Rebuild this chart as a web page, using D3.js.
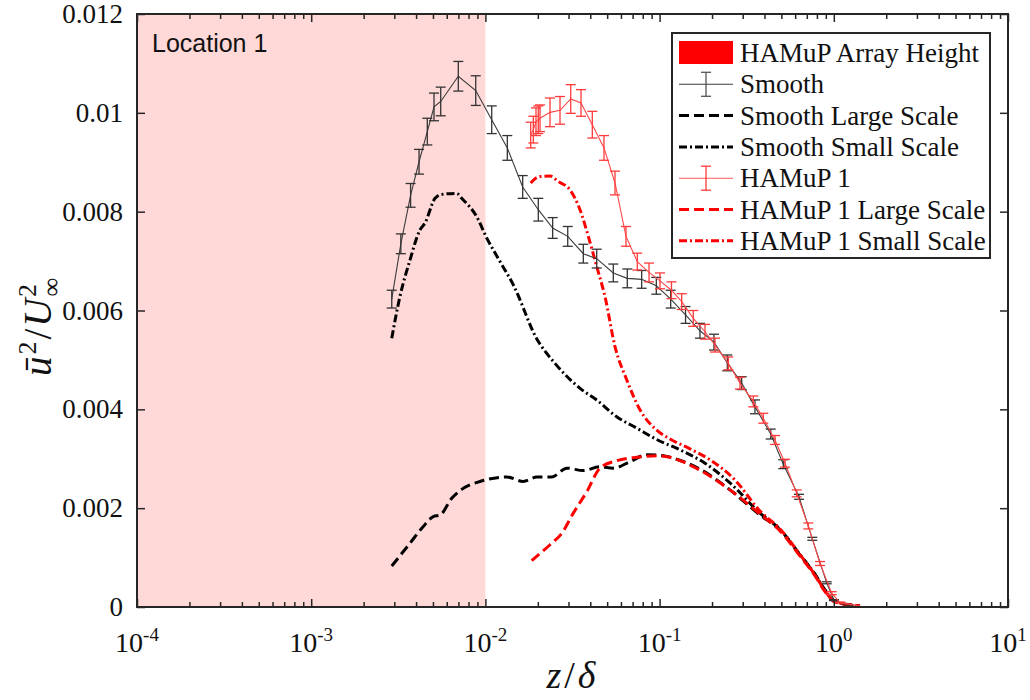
<!DOCTYPE html>
<html>
<head>
<meta charset="utf-8">
<title>Location 1</title>
<script src="https://d3js.org/d3.v7.min.js"></script>
<style>
  body { margin: 0; background: #fff; }
  text { font-family: "Liberation Serif", "Times New Roman", serif; fill: #111; }
</style>
</head>
<body>
<script>
// ---- data ----
var smoothZ = [0.00290, 0.00327, 0.00372, 0.00416, 0.00464, 0.00507, 0.00554, 0.00699, 0.00880, 0.01087,
  0.01336, 0.01637, 0.02012, 0.02433, 0.02969, 0.03648, 0.04356, 0.05422, 0.06525, 0.07890,
  0.09574, 0.1158, 0.1409, 0.1705, 0.2052, 0.2447, 0.2960, 0.3528, 0.4344, 0.5130,
  0.6312, 0.7526, 0.9104, 1.003, 1.15, 1.35, 1.55];
var smoothU = [0.00623, 0.00735, 0.00833, 0.00901, 0.00962, 0.01012, 0.01023, 0.01074, 0.01045, 0.00986,
  0.00929, 0.00850, 0.00804, 0.00767, 0.00750, 0.00715, 0.00705, 0.00676, 0.00665, 0.00663,
  0.00650, 0.00623, 0.00591, 0.00559, 0.00536, 0.00494, 0.00453, 0.00405, 0.00350, 0.00289,
  0.00223, 0.00138, 0.00049, 0.00014, 0.00004, 0.00001, 0];
var smoothErr = [0.00018, 0.00020, 0.00024, 0.00025, 0.00027, 0.00028, 0.00029, 0.00030, 0.00030, 0.00028,
  0.00025, 0.00023, 0.00023, 0.00021, 0.00020, 0.00019, 0.00019, 0.00018, 0.00019, 0.00018,
  0.00017, 0.00018, 0.00017, 0.00015, 0.00016, 0.00016, 0.00013, 0.00014, 0.00010, 0.00009,
  0.00005, 0.00003, 0.00002, 0.00001, 0, 0, 0];

var smoothLargeZ = [0.00290, 0.00369, 0.00440, 0.00502, 0.00549, 0.00641, 0.00731, 0.00931, 0.01326, 0.01651,
  0.01970, 0.02402, 0.02930, 0.03648, 0.04548, 0.05422, 0.06761, 0.08433, 0.1050, 0.1281,
  0.1705, 0.2536, 0.3771, 0.4912, 0.6398, 0.7802, 0.8903, 1.016, 1.414];
var smoothLargeU = [0.00083, 0.00129, 0.00163, 0.00183, 0.00186, 0.00220, 0.00238, 0.00254, 0.00263, 0.00254,
  0.00263, 0.00263, 0.00281, 0.00276, 0.00284, 0.00281, 0.00294, 0.00308, 0.00306, 0.00298,
  0.00279, 0.00237, 0.00186, 0.00156, 0.00105, 0.00066, 0.00034, 0.00011, 0.00002];

var smoothSmallZ = [0.00290, 0.00323, 0.00369, 0.00421, 0.00450, 0.00514, 0.00561, 0.00685, 0.00731, 0.00891,
  0.01017, 0.01213, 0.01446, 0.01970, 0.02509, 0.03538, 0.04356, 0.05672, 0.07387, 0.09625,
  0.1310, 0.1822, 0.2536, 0.3771, 0.4912, 0.6398, 0.7802, 0.8903, 1.016, 1.414];
var smoothSmallU = [0.00544, 0.00628, 0.00702, 0.00763, 0.00777, 0.00827, 0.00835, 0.00837, 0.00827, 0.00790,
  0.00747, 0.00699, 0.00652, 0.00543, 0.00493, 0.00441, 0.00419, 0.00385, 0.00362, 0.00339,
  0.00318, 0.00291, 0.00251, 0.00190, 0.00157, 0.00106, 0.00066, 0.00034, 0.00011, 0.00002];

var hamupZ = [0.01820, 0.01884, 0.01952, 0.02012, 0.02058, 0.02349, 0.02681, 0.03089, 0.03538, 0.04109,
  0.04795, 0.05546, 0.06413, 0.07447, 0.08695, 0.1005, 0.1170, 0.1339, 0.1561, 0.1822,
  0.2080, 0.2480, 0.2894, 0.3450, 0.3937, 0.4597, 0.5248, 0.6124, 0.7140, 0.8333,
  0.9728, 1.0855, 1.414];
var hamupU = [0.00955, 0.00966, 0.00982, 0.00986, 0.00989, 0.01001, 0.01005, 0.01028, 0.01020, 0.00976,
  0.00929, 0.00858, 0.00750, 0.00699, 0.00677, 0.00660, 0.00641, 0.00618, 0.00584, 0.00557,
  0.00530, 0.00493, 0.00453, 0.00416, 0.00382, 0.00338, 0.00291, 0.00230, 0.00164, 0.00088,
  0.00028, 0.00009, 0.00002];
var hamupErr = [0.00026, 0.00027, 0.00028, 0.00028, 0.00027, 0.00029, 0.00028, 0.00029, 0.00027, 0.00027,
  0.00025, 0.00024, 0.00020, 0.00017, 0.00019, 0.00016, 0.00017, 0.00016, 0.00016, 0.00015,
  0.00014, 0.00013, 0.00012, 0.00011, 0.00010, 0.00009, 0.00008, 0.00007, 0.00006, 0.00004,
  0.00003, 0.00001, 0];

var hamupLargeZ = [0.01844, 0.02349, 0.02742, 0.03196, 0.03815, 0.04548, 0.05672, 0.07387, 0.09625, 0.1147,
  0.1310, 0.1705, 0.2536, 0.3771, 0.4912, 0.6398, 0.7802, 0.8903, 1.016, 1.414];
var hamupLargeU = [0.00094, 0.00126, 0.00149, 0.00190, 0.00233, 0.00281, 0.00296, 0.00303, 0.00306, 0.00303,
  0.00296, 0.00277, 0.00237, 0.00188, 0.00154, 0.00103, 0.00063, 0.00031, 0.00010, 0.00002];

var hamupSmallZ = [0.01820, 0.01952, 0.02058, 0.02349, 0.02621, 0.03060, 0.03492, 0.03897, 0.04356, 0.04859,
  0.05546, 0.06473, 0.07716, 0.09625, 0.1147, 0.1494, 0.1947, 0.2709, 0.3771, 0.4912,
  0.6398, 0.7802, 0.8903, 1.016, 1.414];
var hamupSmallU = [0.00858, 0.00868, 0.00871, 0.00872, 0.00861, 0.00844, 0.00804, 0.00750, 0.00689, 0.00628,
  0.00527, 0.00460, 0.00399, 0.00358, 0.00340, 0.00320, 0.00298, 0.00257, 0.00194, 0.00158,
  0.00106, 0.00065, 0.00033, 0.00011, 0.00002];

var arrayHeight = [1e-4, 1e-2];   // shaded HAMuP array height band
var xTickExp = [-4, -3, -2, -1, 0, 1];
var yTicks = [0, 0.002, 0.004, 0.006, 0.008, 0.01, 0.012];
var yTickLabels = ["0", "0.002", "0.004", "0.006", "0.008", "0.01", "0.012"];
var legendNames = ["HAMuP Array Height", "Smooth", "Smooth Large Scale", "Smooth Small Scale",
  "HAMuP 1", "HAMuP 1 Large Scale", "HAMuP 1 Small Scale"];

// ---- layout ----
var width = 1030, height = 700;
var plotL = 137, plotR = 1008, plotT = 14, plotB = 607;
var frameColor = "#262626";
var red = "#ff0000";

var x = d3.scaleLog().domain([1e-4, 10]).range([plotL, plotR]);
var y = d3.scaleLinear().domain([0, 0.012]).range([plotB, plotT]);

var svg = d3.select("body").append("svg")
  .attr("width", width)
  .attr("height", height);

svg.append("defs").append("clipPath").attr("id", "plotclip")
  .append("rect").attr("x", plotL).attr("y", plotT)
  .attr("width", plotR - plotL).attr("height", plotB - plotT);

// shaded band
svg.append("rect")
  .attr("x", x(arrayHeight[0]))
  .attr("y", plotT)
  .attr("width", x(arrayHeight[1]) - x(arrayHeight[0]))
  .attr("height", plotB - plotT)
  .attr("fill", "#ffd8d8");

var plot = svg.append("g").attr("clip-path", "url(#plotclip)");

function zip(zs, us) {
  return zs.map(function(z, i) { return [z, us[i]]; });
}

var straight = d3.line().x(function(d) { return x(d[0]); }).y(function(d) { return y(d[1]); });
var smoothLine = d3.line().curve(d3.curveMonotoneX)
  .x(function(d) { return x(d[0]); }).y(function(d) { return y(d[1]); });

var dashed = "10,5";
var dashDot = "8,3,2,3";

// dashed / dash-dot decompositions
plot.append("path").datum(zip(smoothLargeZ, smoothLargeU))
  .attr("d", smoothLine).attr("fill", "none")
  .attr("stroke", "#000").attr("stroke-width", 3).attr("stroke-dasharray", dashed);
plot.append("path").datum(zip(smoothSmallZ, smoothSmallU))
  .attr("d", smoothLine).attr("fill", "none")
  .attr("stroke", "#000").attr("stroke-width", 3).attr("stroke-dasharray", dashDot);
plot.append("path").datum(zip(hamupLargeZ, hamupLargeU))
  .attr("d", smoothLine).attr("fill", "none")
  .attr("stroke", red).attr("stroke-width", 3).attr("stroke-dasharray", dashed);
plot.append("path").datum(zip(hamupSmallZ, hamupSmallU))
  .attr("d", smoothLine).attr("fill", "none")
  .attr("stroke", red).attr("stroke-width", 3).attr("stroke-dasharray", dashDot);

// error bar series
function errorSeries(zs, us, es, lineColor, barColor) {
  var g = plot.append("g");
  g.append("path").datum(zip(zs, us))
    .attr("d", straight).attr("fill", "none")
    .attr("stroke", lineColor).attr("stroke-width", 1.1);
  var pts = zs.map(function(z, i) { return {z: z, u: us[i], e: es[i]}; })
    .filter(function(d) { return d.e > 0; });
  var bars = g.selectAll("g.bar").data(pts).enter().append("g").attr("class", "bar")
    .attr("stroke", barColor).attr("stroke-width", 1.3);
  bars.append("line")
    .attr("x1", function(d) { return x(d.z); }).attr("x2", function(d) { return x(d.z); })
    .attr("y1", function(d) { return y(d.u - d.e); }).attr("y2", function(d) { return y(d.u + d.e); });
  [-1, 1].forEach(function(s) {
    bars.append("line")
      .attr("x1", function(d) { return x(d.z) - 5; }).attr("x2", function(d) { return x(d.z) + 5; })
      .attr("y1", function(d) { return y(d.u + s * d.e); }).attr("y2", function(d) { return y(d.u + s * d.e); });
  });
}
errorSeries(smoothZ, smoothU, smoothErr, "#3c3c3c", "#333");
errorSeries(hamupZ, hamupU, hamupErr, "#ff4a4a", "#ff3a3a");

// ---- axes (ticks inward on all four sides) ----
var majors = xTickExp.map(function(e) { return Math.pow(10, e); });
var minors = [];
for (var e = -4; e < 1; e++) {
  for (var m = 2; m <= 9; m++) minors.push(m * Math.pow(10, e));
}

function styleAxis(g) {
  g.select(".domain").remove();
  g.selectAll(".tick line").attr("stroke", frameColor).attr("stroke-width", 1.5);
}

svg.append("g").attr("transform", "translate(0," + plotB + ")")
  .call(d3.axisBottom(x).tickValues(majors).tickSize(-8).tickFormat("")).call(styleAxis);
svg.append("g").attr("transform", "translate(0," + plotB + ")")
  .call(d3.axisBottom(x).tickValues(minors).tickSize(-5).tickFormat("")).call(styleAxis);
svg.append("g").attr("transform", "translate(0," + plotT + ")")
  .call(d3.axisTop(x).tickValues(majors).tickSize(-8).tickFormat("")).call(styleAxis);
svg.append("g").attr("transform", "translate(0," + plotT + ")")
  .call(d3.axisTop(x).tickValues(minors).tickSize(-5).tickFormat("")).call(styleAxis);

var yAxis = svg.append("g").attr("transform", "translate(" + plotL + ",0)")
  .call(d3.axisLeft(y).tickValues(yTicks).tickSize(-8).tickPadding(14)
    .tickFormat(function(d, i) { return yTickLabels[i]; }))
  .call(styleAxis);
yAxis.selectAll("text")
  .style("font-family", '"Liberation Serif", serif')
  .style("font-size", "27px").attr("fill", "#111");
svg.append("g").attr("transform", "translate(" + plotR + ",0)")
  .call(d3.axisRight(y).tickValues(yTicks).tickSize(-8).tickFormat("")).call(styleAxis);

// x tick labels 10^n
var xl = svg.append("g").selectAll("text").data(xTickExp).enter().append("text")
  .attr("x", function(d) { return x(Math.pow(10, d)); })
  .attr("y", 652)
  .attr("text-anchor", "middle")
  .style("font-size", "28px");
xl.append("tspan").text("10");
xl.append("tspan").attr("dy", -11).style("font-size", "19px")
  .text(function(d) { return d < 0 ? "-" + Math.abs(d) : String(d); });

// frame
svg.append("rect")
  .attr("x", plotL).attr("y", plotT)
  .attr("width", plotR - plotL).attr("height", plotB - plotT)
  .attr("fill", "none").attr("stroke", frameColor).attr("stroke-width", 2);

// axis titles (TeX-like, set a little wide)
var xt = svg.append("text").attr("x", (plotL + plotR) / 2).attr("y", 688)
  .attr("text-anchor", "middle").style("font-size", "38px").style("letter-spacing", "3px");
xt.append("tspan").style("font-style", "italic").text("z");
xt.append("tspan").text("/");
xt.append("tspan").style("font-style", "italic").text("δ");

var yt = svg.append("text").attr("transform", "translate(51,326) rotate(-90)")
  .attr("text-anchor", "middle").style("font-size", "39px").style("letter-spacing", "2px");
yt.append("tspan").style("font-style", "italic").text("ū");
yt.append("tspan").attr("dy", -15).style("font-size", "26px").text("2");
yt.append("tspan").attr("dy", 15).text("/");
yt.append("tspan").style("font-style", "italic").text("U");
yt.append("tspan").attr("dy", 9).style("font-size", "26px").text("∞");
yt.append("tspan").attr("dx", -21).attr("dy", -24).style("font-size", "26px").text("2");

// location label
svg.append("text").attr("x", 152).attr("y", 52)
  .style("font-family", '"Liberation Sans", Arial, sans-serif')
  .style("font-size", "25px").text("Location 1");

// ---- legend ----
var lg = svg.append("g");
lg.append("rect").attr("x", 672).attr("y", 33).attr("width", 318).attr("height", 225)
  .attr("fill", "#fff").attr("stroke", frameColor).attr("stroke-width", 2);

var rowY = legendNames.map(function(n, i) { return 53 + i * 31.3; });
var sx0 = 679, sx1 = 733, smid = 706;

lg.selectAll("text.name").data(legendNames).enter().append("text")
  .attr("class", "name")
  .attr("x", 740)
  .attr("y", function(d, i) { return rowY[i] + 9; })
  .style("font-size", "27px")
  .text(function(d) { return d; });

// row 0: patch
lg.append("rect").attr("x", sx0).attr("y", rowY[0] - 12).attr("width", sx1 - sx0).attr("height", 23)
  .attr("fill", red);

function legendErr(r, lineColor, barColor) {
  lg.append("line").attr("x1", sx0).attr("x2", sx1).attr("y1", rowY[r]).attr("y2", rowY[r])
    .attr("stroke", lineColor).attr("stroke-width", 1.1);
  lg.append("line").attr("x1", smid).attr("x2", smid).attr("y1", rowY[r] - 12).attr("y2", rowY[r] + 12)
    .attr("stroke", barColor).attr("stroke-width", 1.3);
  [-12, 12].forEach(function(o) {
    lg.append("line").attr("x1", smid - 5).attr("x2", smid + 5)
      .attr("y1", rowY[r] + o).attr("y2", rowY[r] + o)
      .attr("stroke", barColor).attr("stroke-width", 1.3);
  });
}
function legendLine(r, color, dash) {
  lg.append("line").attr("x1", sx0).attr("x2", sx1).attr("y1", rowY[r]).attr("y2", rowY[r])
    .attr("stroke", color).attr("stroke-width", 3).attr("stroke-dasharray", dash);
}
legendErr(1, "#3c3c3c", "#555");
legendLine(2, "#000", dashed);
legendLine(3, "#000", dashDot);
legendErr(4, "#ff5a5a", "#ff3a3a");
legendLine(5, red, dashed);
legendLine(6, red, dashDot);
</script>
</body>
</html>
